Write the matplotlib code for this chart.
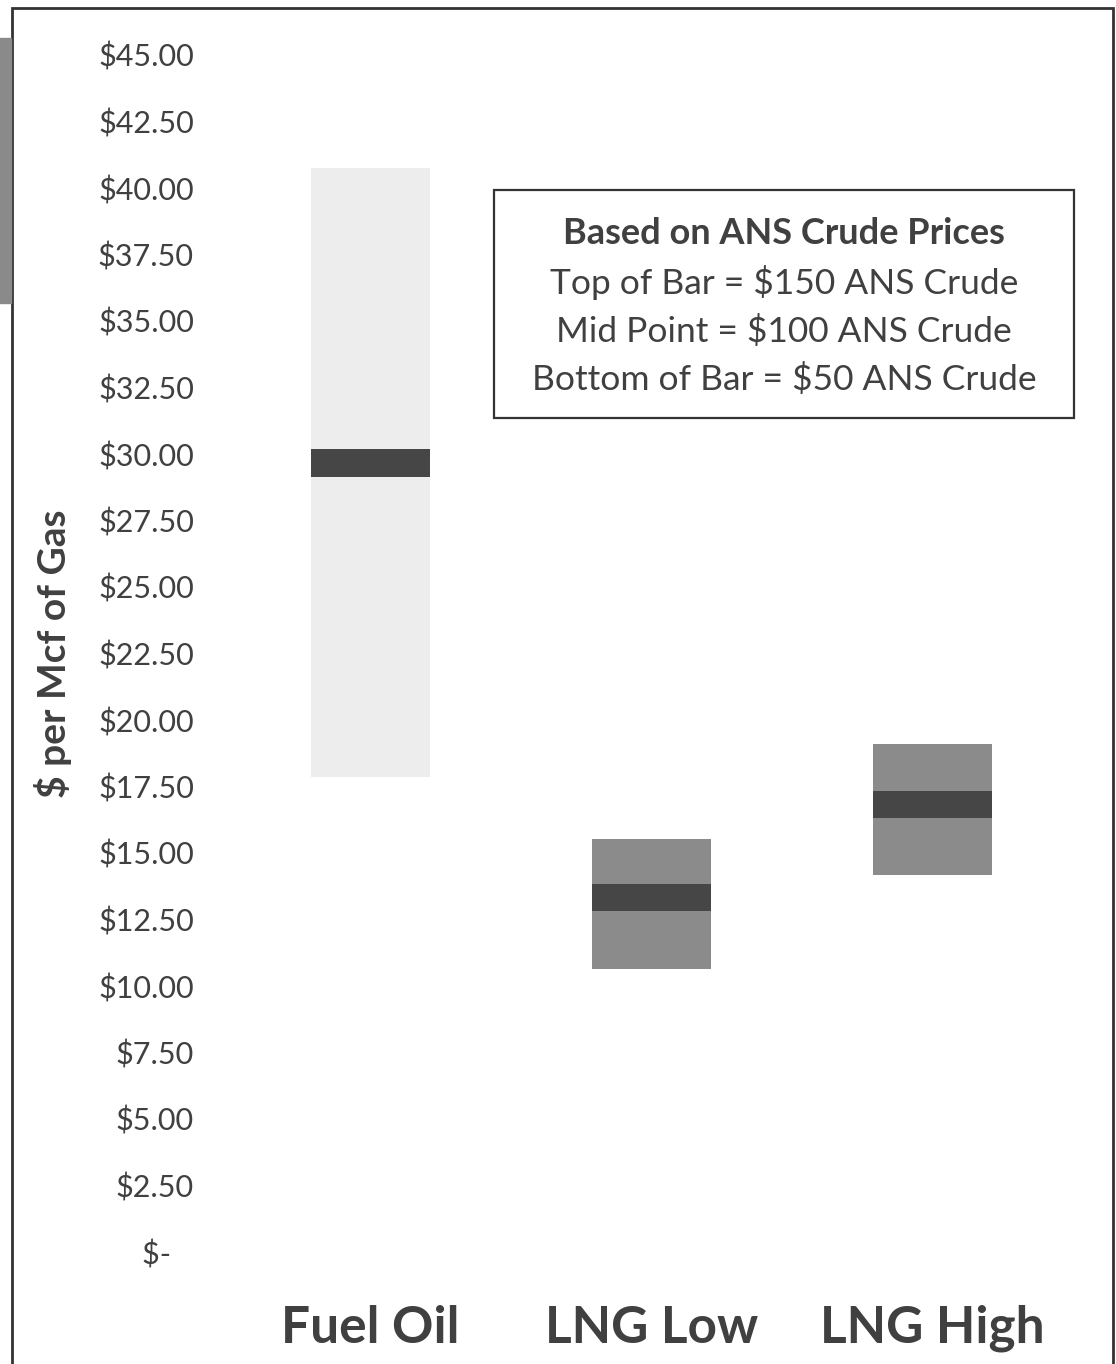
import matplotlib.pyplot as plt
from matplotlib.patches import Rectangle

# data ($ per Mcf of gas)
categories = ["Fuel Oil", "LNG Low", "LNG High"]
low_vals = [17.86, 10.64, 14.17]    # $50 ANS crude
mid_vals = [29.66, 13.33, 16.82]    # $100 ANS crude
high_vals = [40.75, 15.53, 19.10]   # $150 ANS crude
tick_vals = [i * 2.5 for i in range(19)]
tick_labels = ["$-"] + ["${:.2f}".format(v) for v in tick_vals[1:]]

bar_colors = ["#ededed", "#8b8b8b", "#8b8b8b"]
band_color = "#464646"
text_color = "#404040"

plt.rcParams["font.family"] = ["Lato", "DejaVu Sans"]

W, H = 1116, 1364
fig = plt.figure(figsize=(W / 100, H / 100), dpi=100)
ax = fig.add_axes([230 / W, (H - 1252) / H, 843 / W, 1197 / H])

x = range(len(categories))
heights = [h - l for h, l in zip(high_vals, low_vals)]
ax.bar(x, heights, bottom=low_vals, width=0.42, color=bar_colors, zorder=2)
# mid point marker
band = 1.02
ax.bar(x, [band] * 3, bottom=[m - band / 2 for m in mid_vals], width=0.42,
       color=band_color, zorder=3)

ax.set_xlim(-0.5, 2.5)
ax.set_ylim(0, 45)
ax.set_yticks(tick_vals)
ax.set_yticklabels([t if t != "$-" else "$-   " for t in tick_labels])
ax.set_xticks(list(x))
ax.set_xticklabels(categories, fontsize=37, fontweight="bold", color=text_color)
ax.tick_params(axis="y", length=0, pad=26, labelsize=22, labelcolor=text_color)
ax.tick_params(axis="x", length=0, pad=38)
for s in ax.spines.values():
    s.set_visible(False)

ax.set_ylabel("$ per Mcf of Gas", fontsize=28, fontweight="bold", color=text_color)
ax.yaxis.set_label_coords(-158 / 843, 0.5)

# legend-style note box
fig.patches.append(Rectangle((494 / W, (H - 418) / H), 580 / W, 228 / H,
                             transform=fig.transFigure, fill=False,
                             edgecolor="#333333", linewidth=1.6))
note_lines = ["Based on ANS Crude Prices", "Top of Bar = $150 ANS Crude",
              "Mid Point = $100 ANS Crude", "Bottom of Bar = $50 ANS Crude"]
for i, line in enumerate(note_lines):
    fig.text(784 / W, (H - 233 - i * 49) / H, line, ha="center", va="center",
             fontsize=25.5 if i else 26, color=text_color,
             fontweight="bold" if i == 0 else "normal")

# outer frame of the scanned page
fig.patches.append(Rectangle((12 / W, -0.01), 1101 / W, (H - 8) / H + 0.01,
                             transform=fig.transFigure, fill=False,
                             edgecolor="#333333", linewidth=2))
fig.patches.append(Rectangle((0, (H - 303) / H), 11 / W, 265 / H,
                             transform=fig.transFigure, color="#8a8a8a"))

fig.savefig("out.png", dpi=100)
